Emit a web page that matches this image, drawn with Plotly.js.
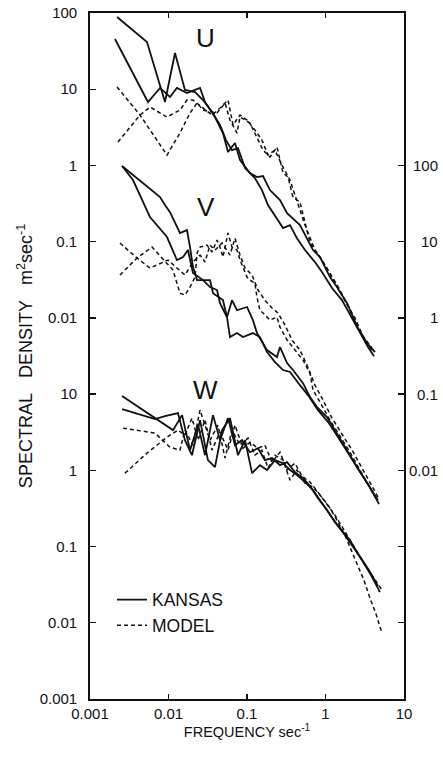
<!DOCTYPE html>
<html>
<head>
<meta charset="utf-8">
<script src="https://cdn.plot.ly/plotly-3.0.1.min.js"></script>
<style>
  html, body { margin: 0; padding: 0; background: #fff; }
  #chart { width: 443px; height: 758px; }
</style>
</head>
<body>
<div id="chart"></div>
<script>
// Velocity spectra U, V, W: Kansas observations (solid) against the model (dashed).
// Each series is a list of [frequency (1/s), spectral density (m^2/s)].

const uKansasA = [[0.00221, 88.7], [0.00532, 41.6], [0.00902, 6.79], [0.0121, 29.9], [0.0162, 9.77], [0.0218, 9.19], [0.0275, 7.21], [0.0369, 4.87], [0.0494, 2.66], [0.0573, 1.50], [0.0703, 1.97], [0.0815, 1.18], [0.109, 0.794], [0.134, 0.705], [0.160, 0.726], [0.196, 0.475], [0.263, 0.352], [0.324, 0.237], [0.473, 0.165], [0.693, 0.0776], [0.851, 0.0628], [1.14, 0.0343], [1.40, 0.0254], [1.88, 0.0156], [2.59, 0.00735], [3.38, 0.00467], [4.27, 0.00356]];
const uKansasB = [[0.00208, 45.6], [0.00548, 6.79], [0.00780, 10.4], [0.01045, 7.90], [0.0128, 10.4], [0.0172, 8.91], [0.0252, 10.4], [0.0292, 6.79], [0.0391, 4.32], [0.0453, 3.39], [0.0540, 2.15], [0.0644, 1.59], [0.0768, 1.69], [0.0944, 0.925], [0.126, 0.684], [0.155, 0.475], [0.185, 0.302], [0.227, 0.223], [0.288, 0.151], [0.353, 0.165], [0.433, 0.111], [0.548, 0.0776], [0.734, 0.0540], [0.902, 0.0399], [1.21, 0.0246], [1.62, 0.0171], [2.18, 0.00993], [2.75, 0.00632], [3.48, 0.00414], [4.15, 0.00315]];
const uModelA = [[0.00221, 10.7], [0.00434, 4.58], [0.00957, 1.37], [0.0140, 2.66], [0.0188, 4.87], [0.0231, 6.59], [0.0275, 5.33], [0.0415, 4.87], [0.0525, 6.59], [0.0607, 3.94], [0.0746, 2.66], [0.0815, 4.32], [0.109, 3.60], [0.134, 2.36], [0.160, 1.59], [0.196, 1.29], [0.241, 1.74], [0.288, 0.794], [0.333, 0.705], [0.385, 0.385], [0.473, 0.331], [0.635, 0.0959], [0.851, 0.0628], [1.14, 0.0387], [1.53, 0.0232], [2.05, 0.0126], [2.59, 0.00735], [3.28, 0.00467], [4.15, 0.00356]];
const uModelB = [[0.00227, 2.03], [0.00434, 4.58], [0.00581, 5.84], [0.00957, 4.32], [0.0140, 5.33], [0.0172, 7.21], [0.0205, 7.21], [0.0275, 5.66], [0.0358, 4.58], [0.0453, 5.66], [0.0573, 7.21], [0.0663, 3.39], [0.0815, 4.58], [0.100, 3.94], [0.126, 2.92], [0.155, 2.15], [0.185, 1.37], [0.227, 1.59], [0.279, 1.01], [0.353, 0.643], [0.433, 0.352], [0.548, 0.165], [0.734, 0.0776], [0.986, 0.0493], [1.32, 0.0286], [1.77, 0.0171], [2.38, 0.00993], [3.00, 0.00577], [3.91, 0.00402]];

const vKansasA = [[0.00256, 98.2], [0.00780, 38.5], [0.00902, 30.2], [0.01045, 24.4], [0.0140, 13.0], [0.0172, 14.2], [0.0188, 8.49], [0.0205, 4.64], [0.0231, 3.13], [0.0338, 3.13], [0.0369, 2.11], [0.0494, 1.71], [0.0556, 1.02], [0.0644, 1.71], [0.0746, 1.26], [0.100, 1.39], [0.119, 0.935], [0.134, 0.632], [0.180, 0.378], [0.241, 0.306], [0.263, 0.414], [0.324, 0.255], [0.385, 0.207], [0.517, 0.139], [0.635, 0.0914], [0.780, 0.0675], [1.045, 0.0499], [1.40, 0.0308], [1.88, 0.0184], [2.52, 0.0110], [3.48, 0.00659], [4.81, 0.00360]];
const vKansasB = [[0.00256, 98.2], [0.00353, 64.3], [0.00581, 21.0], [0.00957, 11.5], [0.0128, 5.74], [0.0153, 6.28], [0.0177, 7.76], [0.0205, 3.87], [0.0275, 3.13], [0.0338, 2.54], [0.0415, 2.32], [0.0453, 1.56], [0.0556, 1.02], [0.0607, 0.560], [0.0746, 0.632], [0.0889, 0.560], [0.119, 0.632], [0.146, 0.560], [0.180, 0.356], [0.227, 0.263], [0.288, 0.207], [0.353, 0.195], [0.473, 0.131], [0.598, 0.0970], [0.802, 0.0617], [1.08, 0.0430], [1.44, 0.0273], [1.94, 0.0168], [2.75, 0.00946], [3.69, 0.00583], [4.67, 0.00406]];
const vModelA = [[0.00241, 9.59], [0.00397, 6.10], [0.00581, 4.51], [0.00986, 5.74], [0.0128, 4.51], [0.0162, 3.65], [0.0205, 5.40], [0.0252, 6.67], [0.0292, 5.40], [0.0338, 9.02], [0.0391, 7.76], [0.0481, 9.59], [0.0607, 6.67], [0.0703, 11.1], [0.0815, 6.67], [0.0944, 4.51], [0.116, 3.65], [0.138, 2.32], [0.169, 1.71], [0.208, 1.35], [0.248, 1.16], [0.305, 0.805], [0.374, 0.512], [0.473, 0.378], [0.581, 0.240], [0.734, 0.131], [0.902, 0.0887], [1.21, 0.0484], [1.62, 0.0299], [2.18, 0.0184], [2.92, 0.0107], [3.80, 0.00659], [4.67, 0.00445]];
const vModelB = [[0.00241, 3.65], [0.00397, 6.10], [0.00617, 8.49], [0.0114, 4.24], [0.0140, 2.11], [0.0162, 1.99], [0.0188, 2.54], [0.0218, 3.43], [0.0231, 7.08], [0.0252, 8.49], [0.0309, 9.02], [0.0358, 7.31], [0.0415, 10.5], [0.0453, 8.49], [0.0494, 6.28], [0.0573, 13.0], [0.0644, 8.49], [0.0746, 7.76], [0.0815, 5.74], [0.100, 3.43], [0.109, 3.13], [0.126, 2.86], [0.134, 1.87], [0.146, 1.26], [0.160, 1.16], [0.196, 0.935], [0.241, 1.02], [0.263, 0.757], [0.324, 0.512], [0.433, 0.345], [0.517, 0.279], [0.635, 0.189], [0.693, 0.113], [0.851, 0.0785], [1.14, 0.0456], [1.53, 0.0281], [2.05, 0.0173], [2.75, 0.0101], [3.69, 0.00603], [4.53, 0.00406]];

const wKansasA = [[0.00256, 9.42], [0.00673, 4.84], [0.0114, 3.37], [0.0149, 5.30], [0.0188, 1.84], [0.0238, 3.92], [0.0292, 1.58], [0.0369, 5.30], [0.0453, 2.49], [0.0573, 4.84], [0.0703, 2.14], [0.0863, 2.49], [0.109, 1.73], [0.138, 1.95], [0.169, 1.36], [0.208, 1.45], [0.263, 1.17], [0.324, 1.28], [0.408, 0.947], [0.517, 0.791], [0.635, 0.621], [0.802, 0.432], [1.045, 0.301], [1.32, 0.209], [1.62, 0.164], [2.05, 0.121], [2.52, 0.0845], [3.09, 0.0605], [3.80, 0.0422], [4.94, 0.0252]];
const wKansasB = [[0.00256, 6.35], [0.00673, 4.70], [0.00902, 5.14], [0.0132, 5.64], [0.0162, 2.49], [0.0199, 1.58], [0.0252, 4.56], [0.0318, 1.36], [0.0391, 1.10], [0.0481, 3.37], [0.0607, 4.84], [0.0768, 1.58], [0.0944, 2.49], [0.116, 0.918], [0.146, 1.17], [0.180, 1.01], [0.227, 1.36], [0.288, 1.24], [0.353, 1.01], [0.433, 0.865], [0.548, 0.700], [0.693, 0.550], [0.851, 0.406], [1.08, 0.283], [1.36, 0.203], [1.77, 0.141], [2.24, 0.101], [2.83, 0.0705], [3.58, 0.0490], [4.67, 0.0302]];
const wModelA = [[0.00263, 3.58], [0.00673, 3.08], [0.01045, 2.01], [0.0140, 1.84], [0.0162, 3.37], [0.0205, 2.14], [0.0252, 6.17], [0.0338, 2.49], [0.0427, 3.92], [0.0525, 1.45], [0.0644, 3.37], [0.0815, 2.14], [0.103, 2.65], [0.126, 1.58], [0.155, 1.84], [0.185, 1.07], [0.227, 1.58], [0.288, 1.36], [0.353, 0.743], [0.433, 1.01], [0.548, 0.679], [0.693, 0.603], [0.851, 0.473], [1.08, 0.349], [1.40, 0.222], [1.77, 0.141], [2.18, 0.0845], [2.59, 0.0570], [3.09, 0.0362], [3.69, 0.0210], [4.40, 0.0130], [5.25, 0.00731]];
const wModelB = [[0.00279, 0.918], [0.00532, 1.68], [0.00957, 2.73], [0.0132, 3.37], [0.0162, 2.90], [0.0199, 4.84], [0.0238, 2.49], [0.0292, 4.56], [0.0358, 1.84], [0.0453, 3.17], [0.0573, 1.84], [0.0703, 3.92], [0.0889, 1.95], [0.109, 2.34], [0.138, 1.95], [0.169, 2.14], [0.208, 1.28], [0.263, 1.73], [0.324, 1.01], [0.408, 1.24], [0.502, 0.839], [0.635, 0.700], [0.802, 0.518], [1.01, 0.372], [1.32, 0.258], [1.67, 0.174], [2.05, 0.121], [2.59, 0.0818], [3.28, 0.0553], [4.15, 0.0385], [5.25, 0.0268]];

// Frequency axis ticks
const freqTickVals = [0.001, 0.01, 0.1, 1, 10];
const freqTickText = ['0.001', '0.01', '0.1', '1', '10'];

// Left scale: lower five decades belong to W, upper five to U (shifted by 10^4)
const leftTickVals = [1e-3, 1e-2, 1e-1, 1, 10, 1e2, 1e3, 1e4, 1e5, 1e6];
const leftTickText = ['0.001', '0.01', '0.1', '1', '10', '0.01', '0.1', '1', '10', '100'];

// Right scale for V
const rightTickVals = [1e-4, 1e-3, 0.01, 0.1, 1, 10, 100];
const rightTickText = ['', '', '0.01', '0.1', '1', '10', '100'];

const componentLabels = ['U', 'V', 'W'];
const legendNames = ['KANSAS', 'MODEL'];

const INK = '#111';
const FONT = 'Liberation Sans, Arial, Helvetica, sans-serif';

function line(series, axis, model, legendName) {
  return {
    type: 'scatter',
    mode: 'lines',
    x: series.map(p => p[0]),
    y: series.map(p => p[1]),
    yaxis: axis,
    name: legendName || (model ? legendNames[1] : legendNames[0]),
    showlegend: !!legendName,
    line: model
      ? { color: INK, width: 1.5, dash: '4px,3px' }
      : { color: INK, width: 1.8 },
    hoverinfo: 'skip'
  };
}

const traces = [
  line(uKansasA, 'y3', false, legendNames[0]),
  line(uModelA, 'y3', true, legendNames[1]),
  line(uKansasB, 'y3', false),
  line(uModelB, 'y3', true),
  line(vKansasA, 'y2', false),
  line(vKansasB, 'y2', false),
  line(vModelA, 'y2', true),
  line(vModelB, 'y2', true),
  line(wKansasA, 'y', false),
  line(wKansasB, 'y', false),
  line(wModelA, 'y', true),
  line(wModelB, 'y', true)
];

const annotations = [];
rightTickVals.forEach((v, i) => {
  if (!rightTickText[i]) return;
  annotations.push({
    xref: 'paper', yref: 'y2', x: 1.115, y: Math.log10(v),
    xanchor: 'right', yanchor: 'middle', showarrow: false,
    text: rightTickText[i], font: { family: FONT, size: 15, color: INK }
  });
});
const labelY = [0.963, 0.717, 0.450];
componentLabels.forEach((t, i) => {
  annotations.push({
    xref: 'paper', yref: 'paper', x: 0.368, y: labelY[i],
    xanchor: 'center', yanchor: 'middle', showarrow: false,
    text: t, font: { family: FONT, size: 26, color: INK }
  });
});

const layout = {
  width: 443,
  height: 758,
  margin: { l: 90, r: 39, t: 13, b: 59 },
  paper_bgcolor: '#fff',
  plot_bgcolor: '#fff',
  font: { family: FONT, size: 15, color: INK },
  showlegend: true,
  legend: {
    x: 0.07, y: 0.171, xanchor: 'left', yanchor: 'top',
    bgcolor: 'rgba(0,0,0,0)', borderwidth: 0,
    font: { family: FONT, size: 17.5, color: INK },
    traceorder: 'normal'
  },
  xaxis: {
    type: 'log', range: [-3, 1],
    tickvals: freqTickVals, ticktext: freqTickText,
    ticks: 'inside', ticklen: 5, tickwidth: 1.4, tickcolor: INK,
    showline: true, linecolor: INK, linewidth: 1.8, mirror: 'ticks',
    showgrid: false, zeroline: false, ticklabelstandoff: 0,
    title: {
      text: 'FREQUENCY sec<sup>-1</sup>',
      standoff: 0,
      font: { family: FONT, size: 14.5, color: INK }
    }
  },
  yaxis: {
    type: 'log', range: [-3, 6],
    tickvals: leftTickVals, ticktext: leftTickText,
    ticks: 'inside', ticklen: 6, tickwidth: 1.4, tickcolor: INK,
    showline: true, linecolor: INK, linewidth: 1.8, mirror: true,
    showgrid: false, zeroline: false, ticklabelstandoff: 8,
    title: {
      text: 'SPECTRAL\u00a0\u00a0\u00a0DENSITY\u00a0\u00a0\u00a0m<sup>2</sup>sec<sup>-1</sup>',
      standoff: 2,
      font: { family: FONT, size: 18, color: INK }
    }
  },
  yaxis2: {
    type: 'log', range: [-5, 4], overlaying: 'y', side: 'right',
    tickvals: rightTickVals, showticklabels: false,
    ticks: 'inside', ticklen: 6, tickwidth: 1.4, tickcolor: INK,
    showline: false, showgrid: false, zeroline: false
  },
  yaxis3: {
    type: 'log', range: [-7, 2], overlaying: 'y', visible: false
  },
  annotations: annotations
};

Plotly.newPlot('chart', traces, layout, { displayModeBar: false, staticPlot: true });
</script>
</body>
</html>
